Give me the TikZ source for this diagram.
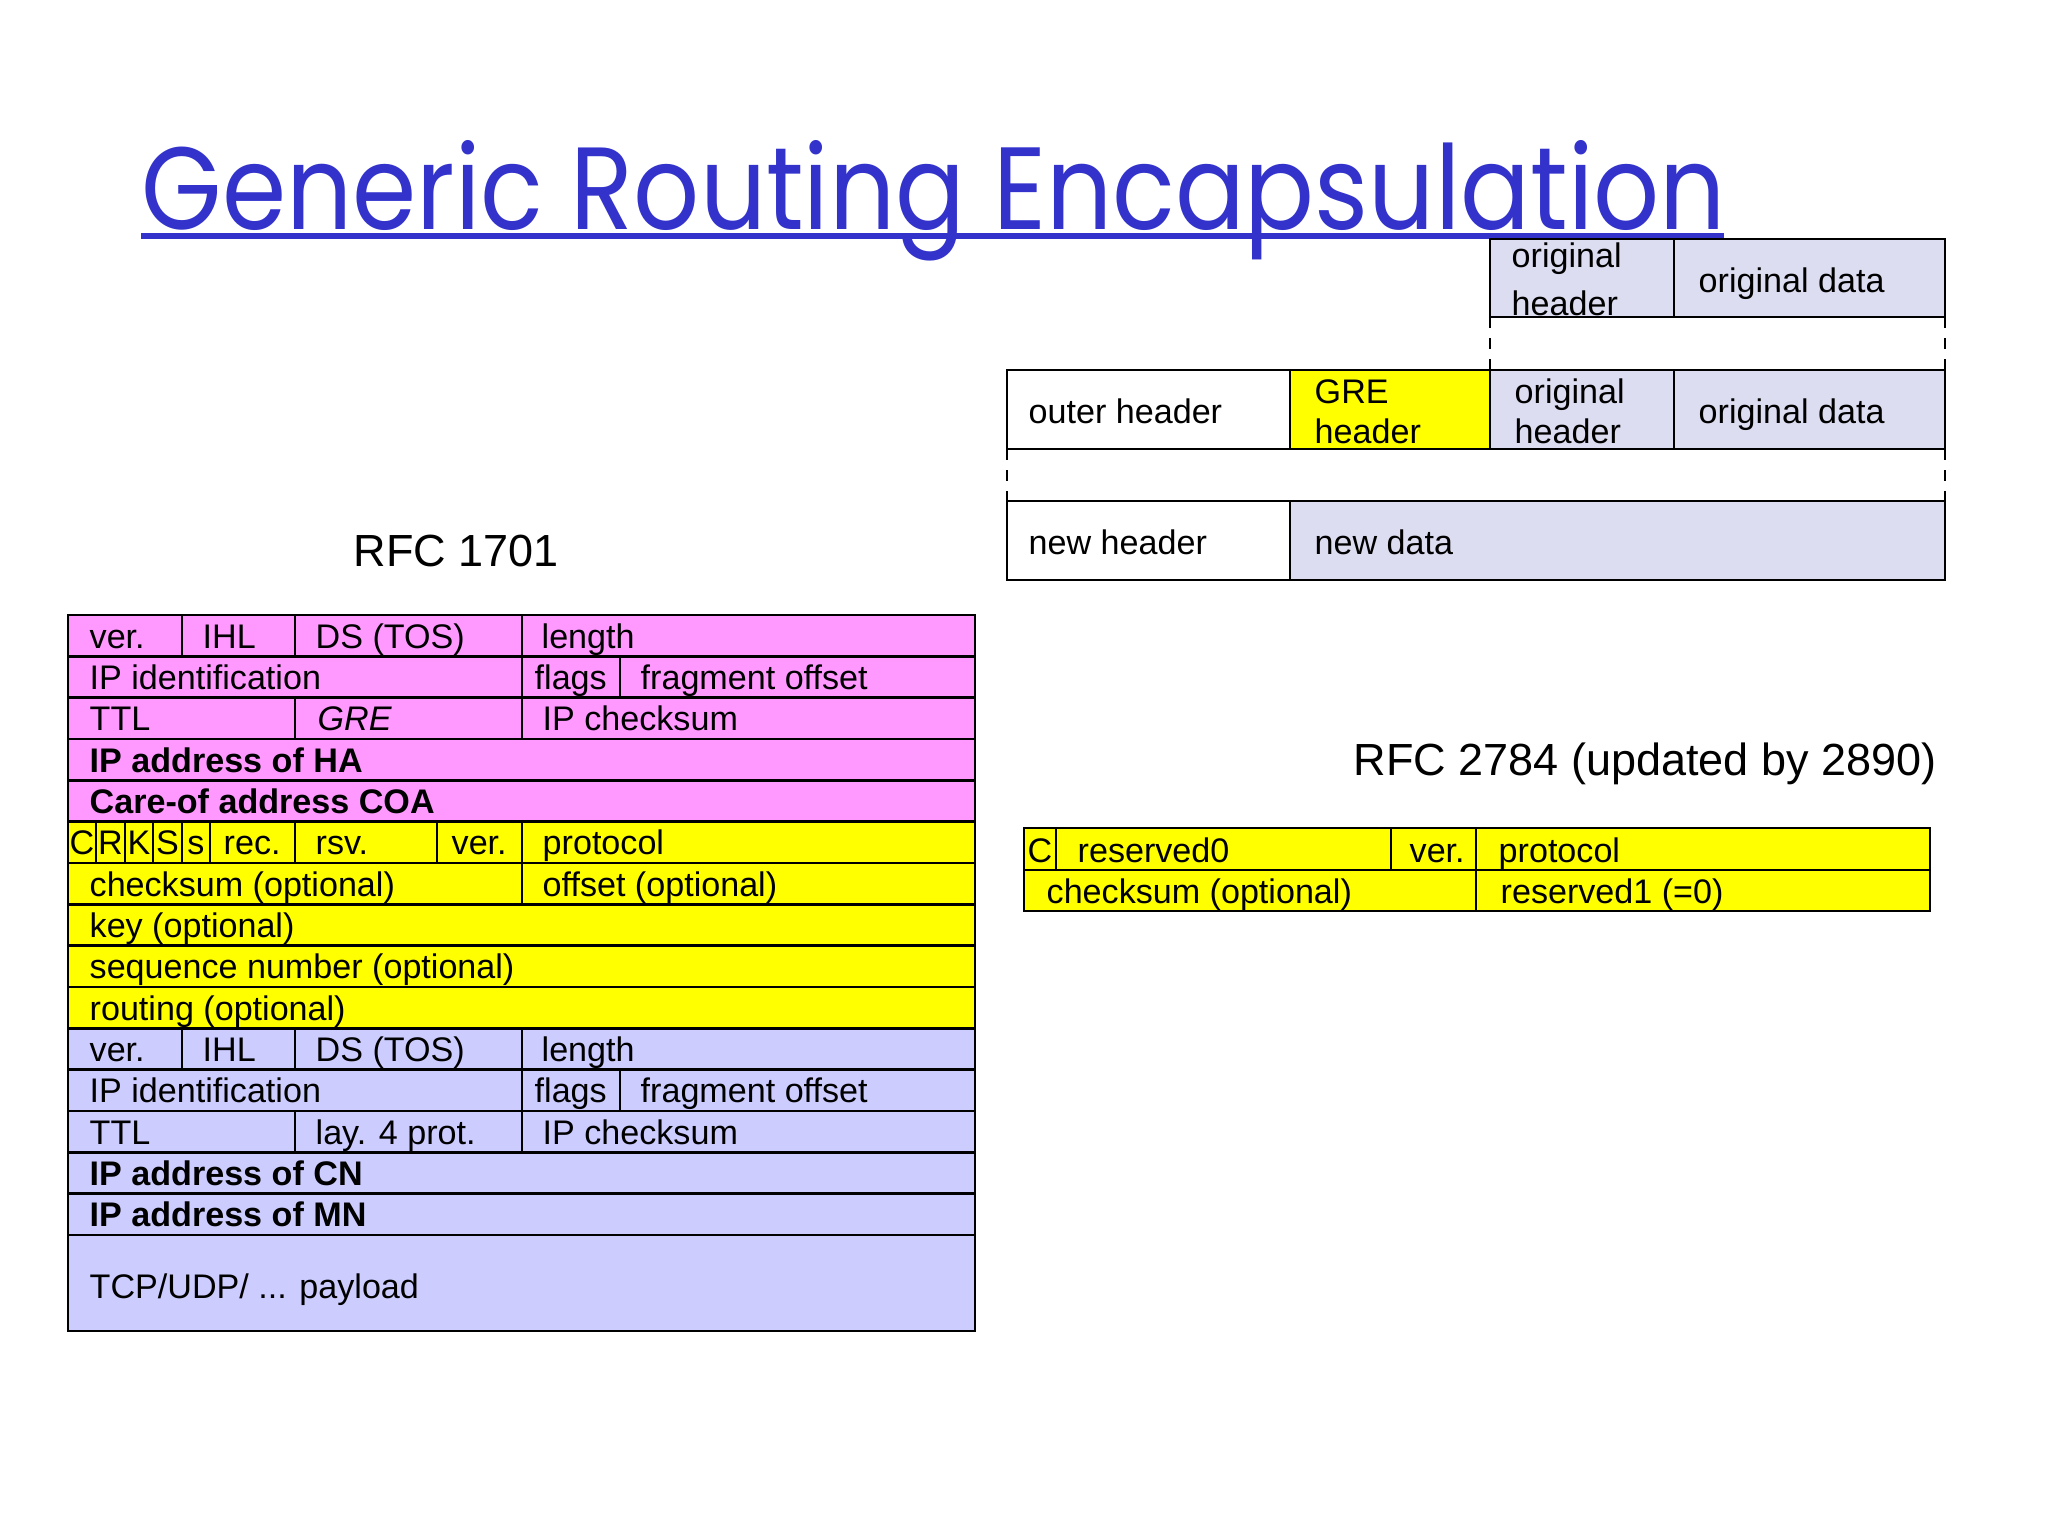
\documentclass[tikz,border=0pt]{standalone}
\usepackage{fontspec}
\setmainfont{Liberation Sans}
\newfontfamily\titlefont{Poppins}
\definecolor{ippink}{HTML}{FF99FF}
\definecolor{greyellow}{HTML}{FFFF00}
\definecolor{iplav}{HTML}{CCCCFF}
\definecolor{datalav}{HTML}{DDDDF2}
\definecolor{titleblue}{HTML}{3333CC}
\tikzset{
  fld/.style={anchor=base west, inner sep=0pt, yshift=-0.7pt, font=\fontsize{9.7}{11}\selectfont},
  bitfld/.style={anchor=base, inner sep=0pt, yshift=-0.7pt, font=\fontsize{9.7}{11}\selectfont},
  rfc/.style={anchor=base west, inner sep=0pt, font=\fontsize{12.8}{15}\selectfont},
  box/.style={draw=black, line width=0.7pt},
}
\begin{document}
\begin{tikzpicture}[x=0.01cm, y=-0.01cm]
    \useasboundingbox (0,0) rectangle (2048,1536);
    % title
    \node[anchor=base west, inner sep=0pt, text=titleblue] (title) at (141,229)
      {\titlefont\resizebox{15.83cm}{0.89cm}{Generic Routing Encapsulation}};
    \draw[titleblue, line width=1.6pt] (141,236) -- (1724,236);

    % encapsulation scheme
    \filldraw[box, fill=datalav] (1490,239) rectangle (1945,317);
    \draw[box] (1674,239) -- (1674,317);
    \draw[box] (1007,370) rectangle (1290,449);
    \filldraw[box, fill=greyellow] (1290,370) rectangle (1490,449);
    \filldraw[box, fill=datalav] (1490,370) rectangle (1945,449);
    \draw[box] (1674,370) -- (1674,449);
    \draw[box] (1007,501) rectangle (1290,580);
    \filldraw[box, fill=datalav] (1290,501) rectangle (1945,580);
    \draw[box, dashed] (1490,317) -- (1490,370);
    \draw[box, dashed] (1945,317) -- (1945,370);
    \draw[box, dashed] (1007,449) -- (1007,501);
    \draw[box, dashed] (1945,449) -- (1945,501);
    \node[fld] (orighdrA) at (1511,265) {original};
    \node[fld] (orighdrB) at (1511,313) {header};
    \node[fld] (origdata) at (1698,290) {original data};
    \node[fld] (outerhdr) at (1028,421) {outer header};
    \node[fld] (grehdrA) at (1314,401) {GRE};
    \node[fld] (grehdrB) at (1314,441) {header};
    \node[fld] (innerhdrA) at (1514,401) {original};
    \node[fld] (innerhdrB) at (1514,441) {header};
    \node[fld] (innerdata) at (1698,421) {original data};
    \node[fld] (newhdr) at (1028,552) {new header};
    \node[fld] (newdata) at (1314,552) {new data};

    % RFC 1701
    \node[rfc] (rfcold) at (353,566) {RFC 1701};
    \filldraw[box, fill=ippink] (68,615) rectangle (975,822);
    \filldraw[box, fill=greyellow] (68,822) rectangle (975,1028);
    \filldraw[box, fill=iplav] (68,1028) rectangle (975,1331);
    \foreach \k in {1,...,15}
      \draw[box] (68,{615+41.33*\k}) -- (975,{615+41.33*\k});
    \draw[box] (182,615) -- (182,656) (295,615) -- (295,656) (522,615) -- (522,656);
    \draw[box] (522,656) -- (522,698) (620,656) -- (620,698);
    \draw[box] (295,698) -- (295,739) (522,698) -- (522,739);
    \foreach \x in {96,125,153,182,210,295,437,522}
      \draw[box] (\x,822) -- (\x,863);
    \draw[box] (522,863) -- (522,904);
    \draw[box] (182,1028) -- (182,1070) (295,1028) -- (295,1070) (522,1028) -- (522,1070);
    \draw[box] (522,1070) -- (522,1111) (620,1070) -- (620,1111);
    \draw[box] (295,1111) -- (295,1152) (522,1111) -- (522,1152);

    \node[fld] (outver) at (89,646) {ver.};
    \node[fld] (outihl) at (202,646) {IHL};
    \node[fld] (outds) at (315,646) {DS (TOS)};
    \node[fld] (outlen) at (541,646) {length};
    \node[fld] (outid) at (89,687) {IP identification};
    \node[fld] (outflags) at (534,687) {flags};
    \node[fld] (outfrag) at (640,687) {fragment offset};
    \node[fld] (outttl) at (89,728) {TTL};
    \node[fld] (outproto) at (317,728) {\itshape GRE};
    \node[fld] (outchk) at (542,728) {IP checksum};
    \node[fld] (haaddr) at (89,770) {\bfseries IP address of HA};
    \node[fld] (coaaddr) at (89,811) {\bfseries Care-of address COA};

    \node[bitfld] (bitC) at (82,852) {C};
    \node[bitfld] (bitR) at (110.5,852) {R};
    \node[bitfld] (bitK) at (139,852) {K};
    \node[bitfld] (bitS) at (167.5,852) {S};
    \node[bitfld] (bits) at (196,852) {s};
    \node[fld] (grerec) at (223,852) {rec.};
    \node[fld] (grersv) at (315,852) {rsv.};
    \node[fld] (grever) at (451,852) {ver.};
    \node[fld] (greproto) at (542,852) {protocol};
    \node[fld] (grechk) at (89,894) {checksum (optional)};
    \node[fld] (greoff) at (542,894) {offset (optional)};
    \node[fld] (grekey) at (89,935) {key (optional)};
    \node[fld] (greseq) at (89,976) {sequence number (optional)};
    \node[fld] (grerout) at (89,1018) {routing (optional)};

    \node[fld] (inver) at (89,1059) {ver.};
    \node[fld] (inihl) at (202,1059) {IHL};
    \node[fld] (inds) at (315,1059) {DS (TOS)};
    \node[fld] (inlen) at (541,1059) {length};
    \node[fld] (inid) at (89,1100) {IP identification};
    \node[fld] (inflags) at (534,1100) {flags};
    \node[fld] (infrag) at (640,1100) {fragment offset};
    \node[fld] (inttl) at (89,1142) {TTL};
    \node[fld] (inproto) at (315,1142) {lay. 4 prot.};
    \node[fld] (inchk) at (542,1142) {IP checksum};
    \node[fld] (cnaddr) at (89,1183) {\bfseries IP address of CN};
    \node[fld] (mnaddr) at (89,1224) {\bfseries IP address of MN};
    \node[fld] (payload) at (89,1296) {TCP/UDP/ ... payload};

    % RFC 2784
    \node[rfc] (rfcnew) at (1353,775) {RFC 2784 (updated by 2890)};
    \filldraw[box, fill=greyellow] (1024,828) rectangle (1930,911);
    \draw[box] (1024,870) -- (1930,870);
    \draw[box] (1056,828) -- (1056,870) (1391,828) -- (1391,870) (1476,828) -- (1476,911);
    \node[bitfld] (newC) at (1040,860) {C};
    \node[fld] (newrsv0) at (1077,860) {reserved0};
    \node[fld] (newver) at (1409,860) {ver.};
    \node[fld] (newproto) at (1498,860) {protocol};
    \node[fld] (newchk) at (1046,901) {checksum (optional)};
    \node[fld] (newrsv1) at (1500,901) {reserved1 (=0)};
\end{tikzpicture}
\end{document}
